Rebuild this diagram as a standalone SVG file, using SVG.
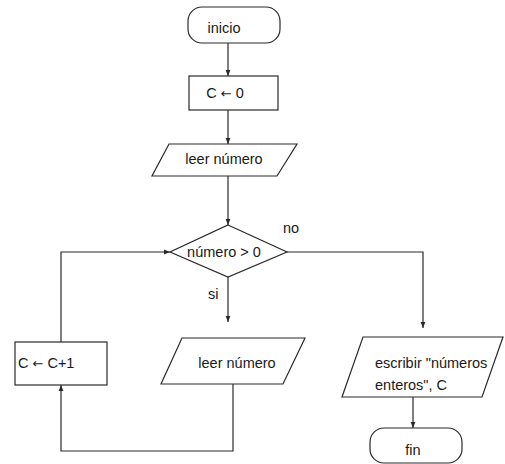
<svg xmlns="http://www.w3.org/2000/svg" width="505" height="464" viewBox="0 0 505 464">
<style>
.s{fill:#fff;stroke:#2a2a2a;stroke-width:1.2}
.c{fill:none;stroke:#2a2a2a;stroke-width:1.2}
text{font-family:"Liberation Sans",Arial,sans-serif;font-size:14.5px;fill:#1a1a1a}
.m{text-anchor:middle}
.ar{font-family:"DejaVu Sans",sans-serif;font-size:13px}
</style>
<defs>
<marker id="a" viewBox="0 0 10 10" refX="10" refY="5" markerWidth="6" markerHeight="6" orient="auto" markerUnits="userSpaceOnUse">
<path d="M0,1 L10,5 L0,9 z" fill="#2a2a2a"/>
</marker>
</defs>
<rect width="505" height="464" fill="#fff"/>
<g id="connectors">
<line class="c" x1="228" y1="43" x2="228" y2="76" marker-end="url(#a)"/>
<line class="c" x1="228" y1="110" x2="228" y2="144" marker-end="url(#a)"/>
<line class="c" x1="228" y1="176" x2="228" y2="225" marker-end="url(#a)"/>
<line class="c" x1="228" y1="277" x2="228" y2="322" marker-end="url(#a)"/>
<polyline class="c" points="61,342 61,252 170,252" marker-end="url(#a)"/>
<polyline class="c" points="233,384 233,451 61,451 61,385" marker-end="url(#a)"/>
<polyline class="c" points="287,252 423,252 423,328" marker-end="url(#a)"/>
<line class="c" x1="413" y1="397" x2="413" y2="428" marker-end="url(#a)"/>
</g>
<g id="inicio">
<rect class="s" x="188" y="7" width="92" height="36" rx="14" ry="14"/>
<text class="m" x="224" y="33">inicio</text>
</g>
<g id="c0">
<rect class="s" x="189" y="76" width="89" height="34"/>
<text class="m" x="225" y="98">C <tspan class="ar">←</tspan> 0</text>
</g>
<g id="leer1">
<polygon class="s" points="169,144 297,144 277,176 152,176"/>
<text class="m" x="224" y="164">leer número</text>
</g>
<g id="decision">
<polygon class="s" points="228,225 287,252 228,277 170,252"/>
<text class="m" x="224" y="257">número &gt; 0</text>
<text x="283" y="233">no</text>
<text x="208" y="299">si</text>
</g>
<g id="inc">
<rect class="s" x="15" y="342" width="92" height="43"/>
<text x="18" y="368">C <tspan class="ar">←</tspan> C+1</text>
</g>
<g id="leer2">
<polygon class="s" points="182,338 305,338 283,384 161,384"/>
<text class="m" x="237" y="368">leer número</text>
</g>
<g id="escribir">
<polygon class="s" points="363,337 503,337 482,397 342,397"/>
<text x="375" y="368">escribir "números</text>
<text x="375" y="390">enteros", C</text>
</g>
<g id="fin">
<rect class="s" x="370" y="428" width="92" height="35" rx="14" ry="14"/>
<text class="m" x="413" y="455">fin</text>
</g>
</svg>
